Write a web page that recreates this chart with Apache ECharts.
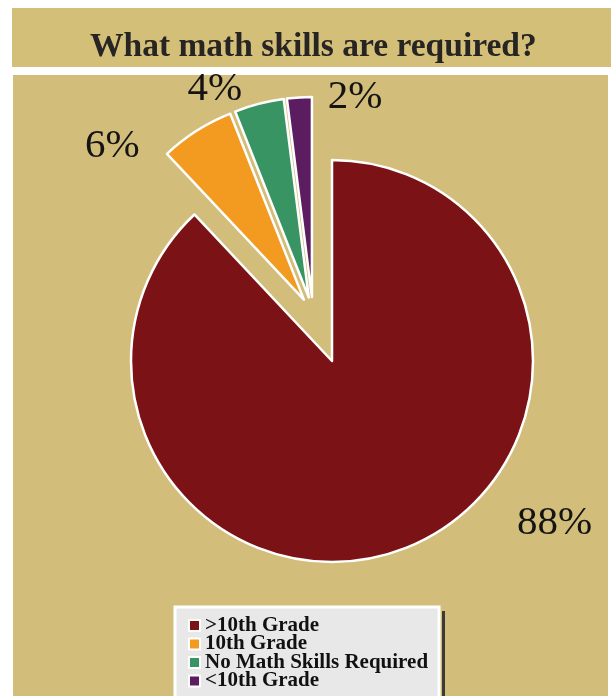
<!DOCTYPE html>
<html>
<head>
<meta charset="utf-8">
<script src="https://cdn.jsdelivr.net/npm/echarts@6/dist/echarts.min.js"></script>
<style>
  html, body { margin: 0; padding: 0; background: #fff; }
  #main { width: 611px; height: 696px; }
</style>
</head>
<body>
<div id="main"></div>
<script>
// data
var categories = ['>10th Grade', '10th Grade', 'No Math Skills Required', '<10th Grade'];
var shares = [88, 6, 4, 2];

var sliceColors = ['#7b1215', '#f39a21', '#389463', '#5c1c60'];
// nudges for the percent labels (dx, dy) by slice
var labelNudge = [[111, -25], [-57, 15], [-17, -15], [83, 0]];

var chart = echarts.init(document.getElementById('main'));

// the big slice and the small ones are pulled apart by different amounts,
// so they go in two series that share the same angles
function buildData(visible) {
  return categories.map(function (name, i) {
    var show = visible.indexOf(i) >= 0;
    return {
      name: name,
      value: shares[i],
      selected: show && i > 0,
      itemStyle: show
        ? { color: sliceColors[i], borderColor: '#fff', borderWidth: 2.5 }
        : { color: 'rgba(0,0,0,0)', borderWidth: 0 },
      label: { show: show }
    };
  });
}

function nudge(params) {
  var n = labelNudge[params.dataIndex];
  return { dx: n[0], dy: n[1] };
}

var pctLabel = {
  position: 'outside',
  formatter: '{c}%',
  fontFamily: 'Liberation Serif',
  fontSize: 41,
  color: '#141414',
  distanceToLabelLine: 0
};

chart.setOption({
  animation: false,
  graphic: [
    { type: 'rect', z: -10, shape: { x: 12, y: 8, width: 599, height: 59 }, style: { fill: '#d4bf78' } },
    { type: 'rect', z: -10, shape: { x: 13, y: 75, width: 595, height: 621 }, style: { fill: '#d2bd7a' } },
    // dark edge on the right of the legend box
    { type: 'rect', z: -5, shape: { x: 442, y: 611, width: 3, height: 85 }, style: { fill: '#3a3a3a' } }
  ],
  title: {
    text: 'What math skills are required?',
    left: 85,
    top: 25,
    textStyle: { fontFamily: 'Liberation Serif', fontWeight: 'bold', fontSize: 33.5, color: '#272424' }
  },
  legend: {
    orient: 'vertical',
    left: 175,
    top: 607,
    height: 120,
    padding: [8, 11, 14, 13],
    backgroundColor: '#e8e8e8',
    borderColor: '#fff',
    borderWidth: 3,
    itemWidth: 11,
    itemHeight: 11,
    itemGap: -2.5,
    icon: 'rect',
    selectedMode: false,
    textStyle: { fontFamily: 'Liberation Serif', fontWeight: 'bold', fontSize: 21, lineHeight: 18.5, color: '#111' },
    data: categories.map(function (name, i) {
      return { name: name, itemStyle: { color: sliceColors[i], borderColor: '#fff', borderWidth: 2 } };
    })
  },
  series: [
    {
      type: 'pie',
      center: [332, 361],
      radius: 201,
      startAngle: 90,
      clockwise: true,
      avoidLabelOverlap: false,
      silent: true,
      label: pctLabel,
      labelLine: { show: false, length: 0, length2: 0 },
      labelLayout: nudge,
      data: buildData([0])
    },
    {
      type: 'pie',
      center: [313, 314],
      radius: 200,
      startAngle: 90,
      clockwise: true,
      avoidLabelOverlap: false,
      silent: true,
      selectedMode: 'multiple',
      selectedOffset: 17,
      label: pctLabel,
      labelLine: { show: false, length: 0, length2: 0 },
      labelLayout: nudge,
      data: buildData([1, 2, 3])
    }
  ]
});
</script>
</body>
</html>
